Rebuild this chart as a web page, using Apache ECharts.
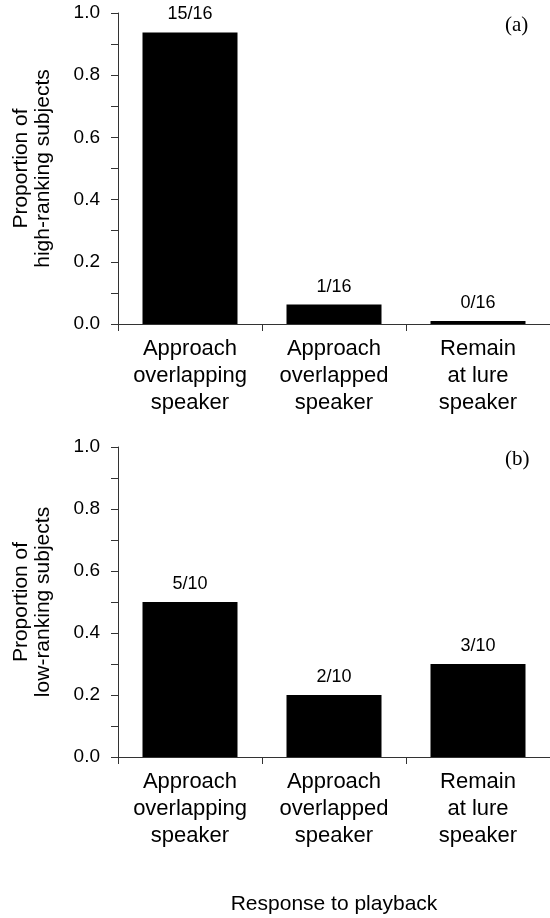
<!DOCTYPE html>
<html>
<head>
<meta charset="utf-8">
<script src="https://cdn.jsdelivr.net/npm/echarts@6/dist/echarts.min.js"></script>
<style>
  html, body { margin: 0; padding: 0; background: #fff; }
  #chart { width: 550px; height: 918px; }
</style>
</head>
<body>
<div id="chart"></div>
<script>
// response categories (shared by both panels)
const categories = [
  'Approach\noverlapping\nspeaker',
  'Approach\noverlapped\nspeaker',
  'Remain\nat lure\nspeaker',
];

// (a) high-ranking subjects
const highCounts = [15, 1, 0];
const highTotal = 16;
// (b) low-ranking subjects
const lowCounts = [5, 2, 3];
const lowTotal = 10;

const yTicks = { min: 0, max: 1, interval: 0.1 };

const FONT = 'Liberation Sans, Arial, sans-serif';
const AXIS_COLOR = '#333';

const toData = (counts, total) => counts.map((c) => ({ value: c / total, count: c, total }));

const makeXAxis = (gridIndex, withName) => ({
  type: 'category',
  gridIndex,
  data: categories,
  axisLine: { lineStyle: { color: AXIS_COLOR, width: 1 } },
  axisTick: { show: true, length: 7, inside: false, lineStyle: { color: AXIS_COLOR } },
  axisLabel: {
    color: '#000',
    fontFamily: FONT,
    fontSize: 22,
    lineHeight: 27,
    margin: 11,
    interval: 0,
  },
  name: withName ? 'Response to playback' : '',
  nameLocation: 'middle',
  nameGap: 137,
  nameTextStyle: { color: '#000', fontFamily: FONT, fontSize: 21 },
});

const makeYAxis = (gridIndex, name) => ({
  type: 'value',
  gridIndex,
  min: yTicks.min,
  max: yTicks.max,
  interval: yTicks.interval,
  splitLine: { show: false },
  axisLine: { show: true, lineStyle: { color: AXIS_COLOR, width: 1 } },
  axisTick: { show: true, length: 7, lineStyle: { color: AXIS_COLOR } },
  axisLabel: {
    color: '#000',
    fontFamily: FONT,
    fontSize: 19,
    margin: 18,
    formatter: (v) => (Math.round(v * 10) % 2 === 0 ? v.toFixed(1) : ''),
  },
  name,
  nameLocation: 'middle',
  nameGap: 64,
  nameTextStyle: { color: '#000', fontFamily: FONT, fontSize: 21, lineHeight: 22 },
});

const makeSeries = (idx, counts, total) => ({
  type: 'bar',
  xAxisIndex: idx,
  yAxisIndex: idx,
  data: toData(counts, total),
  barWidth: 95,
  barMinHeight: 3,
  itemStyle: { color: '#000' },
  label: {
    show: true,
    position: 'top',
    distance: 9,
    color: '#000',
    fontFamily: FONT,
    fontSize: 18,
    formatter: (p) => `${p.data.count}/${p.data.total}`,
  },
  silent: true,
});

const chart = echarts.init(document.getElementById('chart'), null, { renderer: 'canvas' });

chart.setOption({
  backgroundColor: '#fff',
  animation: false,
  grid: [
    { left: 118, right: -4, top: 13, height: 311 },
    { left: 118, right: -4, top: 447, height: 310 },
  ],
  xAxis: [makeXAxis(0, false), makeXAxis(1, true)],
  yAxis: [
    makeYAxis(0, 'Proportion of\nhigh-ranking subjects'),
    makeYAxis(1, 'Proportion of\nlow-ranking subjects'),
  ],
  series: [
    makeSeries(0, highCounts, highTotal),
    makeSeries(1, lowCounts, lowTotal),
  ],
  graphic: [
    {
      type: 'text',
      left: 505,
      top: 15,
      style: { text: '(a)', fill: '#000', font: '21px "Liberation Serif", "Times New Roman", serif' },
    },
    {
      type: 'text',
      left: 505,
      top: 449,
      style: { text: '(b)', fill: '#000', font: '21px "Liberation Serif", "Times New Roman", serif' },
    },
  ],
});
</script>
</body>
</html>
